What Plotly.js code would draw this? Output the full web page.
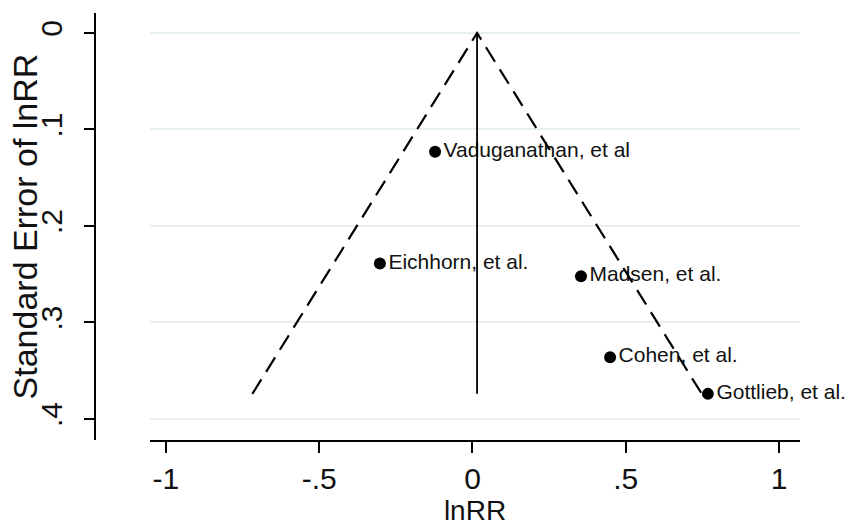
<!DOCTYPE html>
<html>
<head>
<meta charset="utf-8">
<script src="https://cdn.plot.ly/plotly-3.0.1.min.js"></script>
<style>html,body{margin:0;padding:0;background:#fff}#chart{width:853px;height:527px}</style>
</head>
<body>
<div id="chart"></div>
<script>
// ---- data ----
const studies = ['Vaduganathan, et al', 'Eichhorn, et al.', 'Madsen, et al.', 'Cohen, et al.', 'Gottlieb, et al.'];
const lnRR = [-0.122, -0.302, 0.354, 0.449, 0.768];
const seLnRR = [0.123, 0.239, 0.252, 0.336, 0.374];
const pooledLnRR = 0.015;          // fixed-effect summary estimate (vertical line)
const zCrit = [1.96];              // pseudo 95% CI multiplier
const xTickVals = [-1, -0.5, 0, 0.5, 1];
const xTickText = ['-1', '-.5', '0', '.5', '1'];
const yTickVals = [0, 0.1, 0.2, 0.3, 0.4];
const yTickText = ['0', '.1', '.2', '.3', '.4'];
const yTitleText = 'Standard Error of lnRR';

const seMax = Math.max(...seLnRR);
const z = zCrit[0];
const funnelX = [pooledLnRR - z * seMax, pooledLnRR, pooledLnRR + z * seMax];
const funnelY = [seMax, 0, seMax];

const tickFont = {family: '"Liberation Sans", Arial, sans-serif', size: 30, color: '#111'};

const traces = [
  {
    x: lnRR, y: seLnRR, text: studies, type: 'scatter', mode: 'markers+text',
    textposition: 'middle right',
    textfont: {family: '"Liberation Sans", Arial, sans-serif', size: 21, color: '#111'},
    marker: {color: '#000', size: 12},
    cliponaxis: false, hoverinfo: 'skip'
  },
  {
    x: funnelX, y: funnelY, type: 'scatter', mode: 'lines',
    line: {color: '#000', width: 2.2, dash: '17px,9px'},
    cliponaxis: false, hoverinfo: 'skip'
  },
  {
    x: [pooledLnRR, pooledLnRR], y: [0, seMax], type: 'scatter', mode: 'lines',
    line: {color: '#000', width: 1.8},
    cliponaxis: false, hoverinfo: 'skip'
  }
];

const layout = {
  width: 853, height: 527,
  margin: {l: 95, r: 53, t: 13, b: 87},
  paper_bgcolor: '#fff', plot_bgcolor: '#fff',
  showlegend: false,
  xaxis: {
    domain: [0.078, 1],
    range: [-1.052, 1.0685],
    tickvals: xTickVals, ticktext: xTickText,
    tickfont: tickFont,
    ticks: 'outside', ticklen: 11, tickwidth: 2, tickcolor: '#000',
    showline: true, linecolor: '#000', linewidth: 2,
    showgrid: false, zeroline: false,
    title: {text: 'lnRR', font: {family: '"Liberation Sans", Arial, sans-serif', size: 28, color: '#111'}, standoff: 0},
    automargin: false
  },
  yaxis: {
    anchor: 'free', position: 0,
    range: [0.4218, -0.0207],
    tickvals: yTickVals, ticktext: yTickText,
    tickangle: -90,
    tickfont: tickFont,
    ticks: 'outside', ticklen: 10, tickwidth: 2, tickcolor: '#000',
    ticklabelstandoff: 10,
    showline: true, linecolor: '#000', linewidth: 2,
    showgrid: true, gridcolor: '#e6eff1', gridwidth: 2,
    zeroline: false,
    automargin: false
  },
  annotations: [{
    text: yTitleText, textangle: -90, showarrow: false,
    xref: 'paper', yref: 'paper', x: -0.1, y: 0.499,
    xanchor: 'center', yanchor: 'middle',
    font: {family: '"Liberation Sans", Arial, sans-serif', size: 34, color: '#111'}
  }]
};

Plotly.newPlot('chart', traces, layout, {staticPlot: true, displayModeBar: false});
</script>
</body>
</html>
